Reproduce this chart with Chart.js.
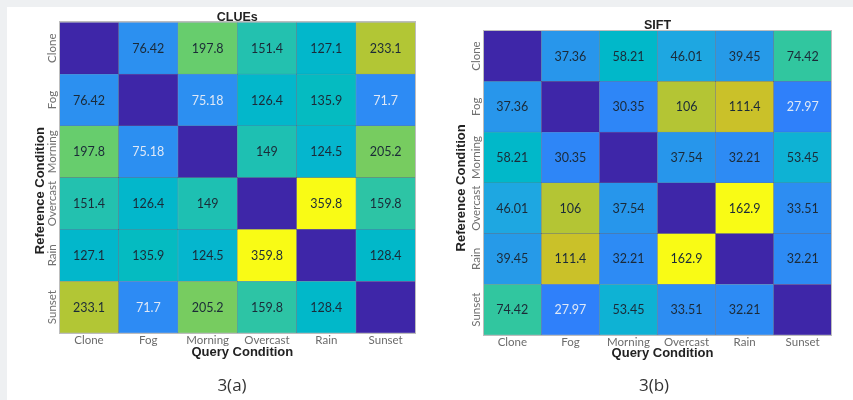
<!DOCTYPE html>
<html>
<head>
<meta charset="utf-8">
<script src="https://cdn.jsdelivr.net/npm/chart.js@4/dist/chart.umd.min.js"></script>
<style>
  html, body { margin: 0; padding: 0; }
  body { width: 853px; height: 400px; background: #eef0f2; position: relative; overflow: hidden; }
  #panel { position: absolute; left: 7px; top: 7px; width: 846px; height: 393px; background: #fff; }
  canvas { position: absolute; top: 0; }
  .cap { position: absolute; top: 374px; font-family: "Open Sans", sans-serif; font-size: 17px; color: #333; transform: translateX(-50%); line-height: 22px; }
</style>
</head>
<body>
<div id="panel"></div>
<canvas id="clues" width="430" height="400" style="left:0;width:430px;height:400px"></canvas>
<canvas id="sift" width="423" height="400" style="left:430px;width:423px;height:400px"></canvas>
<div class="cap" style="left:232px">3(a)</div>
<div class="cap" style="left:654px">3(b)</div>
<script>
// Weather conditions used for both query (columns) and reference (rows)
const conditions = ['Clone', 'Fog', 'Morning', 'Overcast', 'Rain', 'Sunset'];

// CLUEs matrix, one array per reference condition (diagonal left empty = 0)
const cluesClone    = [0, 76.42, 197.8, 151.4, 127.1, 233.1];
const cluesFog      = [76.42, 0, 75.18, 126.4, 135.9, 71.7];
const cluesMorning  = [197.8, 75.18, 0, 149, 124.5, 205.2];
const cluesOvercast = [151.4, 126.4, 149, 0, 359.8, 159.8];
const cluesRain     = [127.1, 135.9, 124.5, 359.8, 0, 128.4];
const cluesSunset   = [233.1, 71.7, 205.2, 159.8, 128.4, 0];

// SIFT matrix
const siftClone    = [0, 37.36, 58.21, 46.01, 39.45, 74.42];
const siftFog      = [37.36, 0, 30.35, 106, 111.4, 27.97];
const siftMorning  = [58.21, 30.35, 0, 37.54, 32.21, 53.45];
const siftOvercast = [46.01, 106, 37.54, 0, 162.9, 33.51];
const siftRain     = [39.45, 111.4, 32.21, 162.9, 0, 32.21];
const siftSunset   = [74.42, 27.97, 53.45, 33.51, 32.21, 0];

// Parula colormap (64 steps)
const PARULA = [
[0.2422,0.1504,0.6603],[0.2504,0.1650,0.7076],[0.2578,0.1818,0.7511],[0.2647,0.1978,0.7952],
[0.2706,0.2147,0.8364],[0.2751,0.2342,0.8710],[0.2783,0.2559,0.8991],[0.2803,0.2782,0.9221],
[0.2813,0.3006,0.9414],[0.2810,0.3228,0.9579],[0.2795,0.3447,0.9717],[0.2760,0.3667,0.9829],
[0.2699,0.3892,0.9906],[0.2602,0.4123,0.9952],[0.2440,0.4358,0.9988],[0.2206,0.4603,0.9973],
[0.1963,0.4847,0.9892],[0.1834,0.5074,0.9798],[0.1786,0.5289,0.9682],[0.1764,0.5499,0.9520],
[0.1687,0.5703,0.9359],[0.1540,0.5902,0.9218],[0.1460,0.6091,0.9079],[0.1380,0.6276,0.8973],
[0.1248,0.6459,0.8883],[0.1113,0.6635,0.8763],[0.0952,0.6798,0.8598],[0.0689,0.6948,0.8394],
[0.0297,0.7082,0.8163],[0.0036,0.7203,0.7917],[0.0067,0.7312,0.7660],[0.0433,0.7411,0.7394],
[0.0964,0.7500,0.7120],[0.1408,0.7584,0.6842],[0.1717,0.7670,0.6554],[0.1938,0.7758,0.6251],
[0.2161,0.7843,0.5923],[0.2470,0.7918,0.5567],[0.2906,0.7973,0.5188],[0.3406,0.8008,0.4789],
[0.3909,0.8029,0.4354],[0.4456,0.8024,0.3909],[0.5044,0.7993,0.3480],[0.5616,0.7942,0.3045],
[0.6174,0.7876,0.2612],[0.6720,0.7793,0.2227],[0.7242,0.7698,0.1910],[0.7738,0.7598,0.1646],
[0.8203,0.7498,0.1535],[0.8634,0.7406,0.1596],[0.9035,0.7330,0.1774],[0.9393,0.7288,0.2100],
[0.9728,0.7298,0.2394],[0.9956,0.7434,0.2371],[0.9970,0.7659,0.2199],[0.9952,0.7893,0.2028],
[0.9892,0.8136,0.1885],[0.9786,0.8386,0.1766],[0.9676,0.8639,0.1643],[0.9610,0.8890,0.1537],
[0.9597,0.9135,0.1423],[0.9628,0.9373,0.1265],[0.9691,0.9606,0.1064],[0.9769,0.9839,0.0805]
];
const COLOR_GAMMA = 0.75;

function parula(t) {
  t = Math.max(0, Math.min(1, t));
  const f = t * (PARULA.length - 1);
  const i = Math.min(PARULA.length - 2, Math.floor(f));
  const k = f - i;
  const c = PARULA[i].map((a, n) => Math.round(255 * (a + (PARULA[i + 1][n] - a) * k)));
  return `rgb(${c[0]},${c[1]},${c[2]})`;
}

// Value labels inside each cell
const cellLabels = {
  id: 'cellLabels',
  afterDatasetsDraw(chart, args, opts) {
    const ctx = chart.ctx;
    ctx.save();
    ctx.font = '12.5px Lato, sans-serif';
    ctx.textAlign = 'center';
    ctx.textBaseline = 'middle';
    chart.data.datasets.forEach((ds, i) => {
      chart.getDatasetMeta(i).data.forEach((el, j) => {
        const v = ds.values[j];
        if (!v) return;
        const p = el.getProps(['x', 'y', 'base'], true);
        ctx.fillStyle = v < opts.lightBelow ? '#dfe8f6' : '#1b2a38';
        ctx.fillText(String(v), p.x, (p.y + p.base) / 2 + 0.5);
      });
    });
    ctx.restore();
  }
};

// Frame, rotated reference-condition labels and the two axis titles
const axisDecor = {
  id: 'axisDecor',
  afterDraw(chart, args, opts) {
    const ctx = chart.ctx;
    const a = chart.chartArea;
    const ys = chart.scales.y;
    ctx.save();
    ctx.strokeStyle = '#bdbdbd';
    ctx.lineWidth = 1;
    ctx.strokeRect(Math.round(a.left) + 0.5, Math.round(a.top) - 0.5, Math.round(a.right - a.left), Math.round(a.bottom - a.top) + 1);

    ctx.textAlign = 'center';
    ctx.textBaseline = 'middle';
    ctx.font = '11.5px Lato, sans-serif';
    ctx.fillStyle = '#707070';
    conditions.forEach((name, r) => {
      const y = ys.getPixelForValue(conditions.length - r - 0.5);
      ctx.save();
      ctx.translate(a.left - 7.5, y);
      ctx.rotate(-Math.PI / 2);
      ctx.fillText(name, 0, 0);
      ctx.restore();
    });

    ctx.fillStyle = '#222';
    ctx.font = 'bold 13px "Liberation Sans", Arial, sans-serif';
    ctx.fillText(opts.xTitle, (a.left + a.right) / 2 + opts.xTitleShift, opts.xTitleY);
    ctx.save();
    ctx.translate(opts.yTitleX, (a.top + a.bottom) / 2 + opts.yTitleShift);
    ctx.rotate(-Math.PI / 2);
    ctx.fillText(opts.yTitle, 0, 0);
    ctx.restore();
    ctx.restore();
  }
};

function heatmap(canvasId, name, rows, lay) {
  const max = Math.max(...rows.flat());
  const datasets = [];
  // Bottom row first so the stack reads Clone at the top
  for (let r = rows.length - 1; r >= 0; r--) {
    datasets.push({
      label: conditions[r],
      data: rows[r].map(() => 1),
      values: rows[r],
      backgroundColor: rows[r].map(v => parula(Math.pow(v / max, COLOR_GAMMA))),
      borderColor: 'rgba(25,35,70,0.45)',
      borderWidth: 0.5,
      borderSkipped: false,
      barPercentage: 1,
      categoryPercentage: 1
    });
  }
  return new Chart(document.getElementById(canvasId), {
    type: 'bar',
    data: { labels: conditions, datasets },
    plugins: [cellLabels, axisDecor],
    options: {
      responsive: false,
      animation: false,
      events: [],
      layout: { padding: { left: lay.yAxisW, right: lay.padRight, top: 0, bottom: 0 } },
      plugins: {
        legend: { display: false },
        tooltip: { enabled: false },
        title: {
          display: true, text: name, color: '#222',
          font: { family: 'Liberation Sans, Arial, sans-serif', weight: 'bold', size: 12.5, lineHeight: 0.8 },
          padding: { top: lay.titlePad, bottom: 0 }
        },
        cellLabels: { lightBelow: lay.lightBelow },
        axisDecor: {
          xTitle: 'Query Condition', yTitle: 'Reference Condition',
          xTitleY: lay.xTitleY, xTitleShift: 5,
          yTitleX: lay.yTitleX, yTitleShift: lay.yTitleShift
        }
      },
      scales: {
        x: {
          type: 'category', stacked: true, offset: true,
          grid: { display: false, drawTicks: false },
          border: { display: false },
          ticks: { color: '#6b6b6b', font: { family: 'Lato, sans-serif', size: 11.5 }, padding: 0, maxRotation: 0, autoSkip: false },
          afterFit: s => { s.height = lay.xAxisH; }
        },
        y: {
          type: 'linear', stacked: true, min: 0, max: conditions.length,
          display: false
        }
      }
    }
  });
}

heatmap('clues', 'CLUEs',
  [cluesClone, cluesFog, cluesMorning, cluesOvercast, cluesRain, cluesSunset],
  { padRight: 14.7, titlePad: 12.3, yAxisW: 59.3, xAxisH: 67, xTitleY: 352.5, yTitleX: 40, yTitleShift: 13, lightBelow: 76 });

heatmap('sift', 'SIFT',
  [siftClone, siftFog, siftMorning, siftOvercast, siftRain, siftSunset],
  { padRight: 21.3, titlePad: 20.7, yAxisW: 53.3, xAxisH: 65, xTitleY: 353.8, yTitleX: 31.7, yTitleShift: 5, lightBelow: 29 });
</script>
</body>
</html>
